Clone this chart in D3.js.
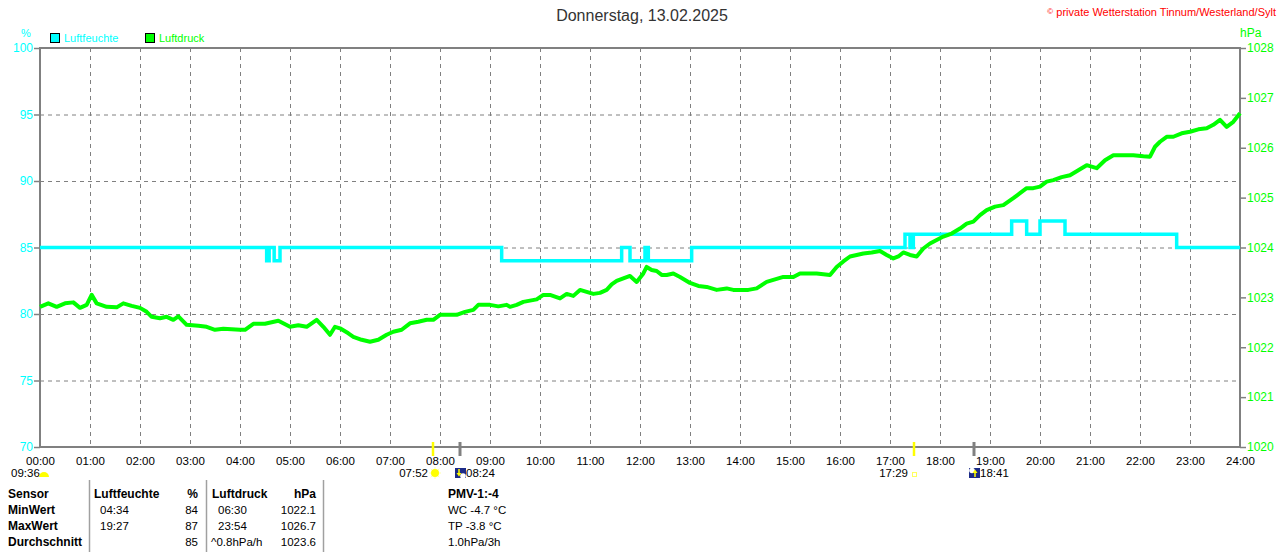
<!DOCTYPE html>
<html>
<head>
<meta charset="utf-8">
<title>Luftfeuchte / Luftdruck 13.02.2025</title>
<script src="https://cdn.jsdelivr.net/npm/d3@7"></script>
<style>
  body { margin: 0; background: #fff; }
  svg { display: block; font-family: "Liberation Sans", Arial, sans-serif; }
</style>
</head>
<body>
<div id="chart"></div>
<script>
// --- data ---
const hourTicks = ["00:00","01:00","02:00","03:00","04:00","05:00","06:00","07:00","08:00",
  "09:00","10:00","11:00","12:00","13:00","14:00","15:00","16:00","17:00","18:00","19:00",
  "20:00","21:00","22:00","23:00","24:00"];
const humTicks = [70, 75, 80, 85, 90, 95, 100];
const pressTicks = [1020, 1021, 1022, 1023, 1024, 1025, 1026, 1027, 1028];

// Luftfeuchte (%), step values
const humTimes  = ["00:00","04:32","04:35","04:41","04:48","09:14","11:38","11:48","12:06","12:10",
  "13:02","17:18","17:24","17:28","19:26","19:44","20:00","20:30","22:44","24:00"];
const humValues = [85, 84, 85, 84, 85, 84, 85, 84, 85, 84,
  85, 86, 85, 86, 87, 86, 87, 86, 85, 85];

// Luftdruck (hPa)
const pressTimes = ["00:00","00:10","00:20","00:30","00:40","00:48","00:56","01:02","01:08","01:20",
  "01:32","01:40","01:50","02:00","02:08","02:14","02:24","02:32","02:40","02:46",
  "02:56","03:10","03:20","03:30","03:40","03:50","04:00","04:06","04:16","04:30",
  "04:46","05:00","05:10","05:20","05:32","05:40","05:48","05:54","06:00","06:10",
  "06:16","06:26","06:36","06:46","06:56","07:04","07:14","07:24","07:34","07:44",
  "07:52","08:00","08:10","08:20","08:30","08:40","08:46","09:00","09:10","09:20",
  "09:24","09:32","09:40","09:56","10:04","10:12","10:24","10:32","10:40","10:48",
  "10:56","11:04","11:12","11:20","11:26","11:32","11:40","11:48","11:56","12:04",
  "12:08","12:14","12:20","12:26","12:32","12:40","12:48","12:56","13:00","13:10",
  "13:20","13:32","13:44","13:52","14:00","14:10","14:20","14:32","14:40","14:52",
  "15:04","15:12","15:22","15:32","15:48","15:56","16:04","16:12","16:20","16:28",
  "16:38","16:48","16:56","17:04","17:10","17:16","17:24","17:32","17:40","17:48",
  "17:56","18:04","18:14","18:24","18:32","18:40","18:48","18:56","19:06","19:16",
  "19:28","19:36","19:44","19:52","20:00","20:08","20:16","20:26","20:36","20:46",
  "20:56","21:08","21:18","21:28","21:40","21:52","22:04","22:12","22:18","22:24",
  "22:32","22:40","22:50","23:00","23:10","23:20","23:28","23:36","23:44","23:52","24:00"];
const pressValues = [1022.81,1022.88,1022.81,1022.88,1022.90,1022.79,1022.85,1023.05,1022.88,1022.81,
  1022.80,1022.88,1022.83,1022.79,1022.71,1022.61,1022.58,1022.61,1022.55,1022.62,
  1022.45,1022.43,1022.41,1022.35,1022.37,1022.36,1022.35,1022.35,1022.47,1022.47,
  1022.53,1022.41,1022.44,1022.41,1022.55,1022.41,1022.25,1022.41,1022.38,1022.28,
  1022.21,1022.15,1022.11,1022.15,1022.25,1022.31,1022.35,1022.48,1022.51,1022.55,
  1022.55,1022.65,1022.65,1022.65,1022.71,1022.75,1022.85,1022.85,1022.82,1022.85,
  1022.81,1022.85,1022.91,1022.96,1023.05,1023.05,1022.98,1023.07,1023.03,1023.15,
  1023.11,1023.07,1023.09,1023.15,1023.26,1023.33,1023.38,1023.43,1023.31,1023.48,
  1023.61,1023.55,1023.53,1023.45,1023.45,1023.48,1023.41,1023.33,1023.29,1023.23,
  1023.21,1023.15,1023.18,1023.15,1023.15,1023.15,1023.18,1023.31,1023.35,1023.41,
  1023.41,1023.48,1023.48,1023.48,1023.45,1023.61,1023.72,1023.82,1023.85,1023.88,
  1023.90,1023.93,1023.85,1023.78,1023.82,1023.90,1023.85,1023.82,1023.98,1024.08,
  1024.15,1024.22,1024.28,1024.38,1024.48,1024.52,1024.65,1024.75,1024.82,1024.85,
  1024.99,1025.09,1025.19,1025.19,1025.22,1025.32,1025.35,1025.41,1025.45,1025.55,
  1025.65,1025.59,1025.75,1025.85,1025.85,1025.85,1025.83,1025.82,1026.02,1026.12,
  1026.22,1026.22,1026.29,1026.32,1026.37,1026.39,1026.46,1026.56,1026.42,1026.52,1026.69];

// Sonne / Mond
const astroTimes = ["07:52", "08:24", "17:29", "18:41"];
const astroKinds = ["sunrise", "moonset", "sunset", "moonrise"];
const moonInfo = "09:36";

// Tabelle
const tableHeader = ["Sensor", "Luftfeuchte", "%", "Luftdruck", "hPa", "PMV-1:-4"];
const rowLabels   = ["MinWert", "MaxWert", "Durchschnitt"];
const humWhen     = ["04:34", "19:27", ""];
const humStat     = ["84", "87", "85"];
const pressWhen   = ["06:30", "23:54", "^0.8hPa/h"];
const pressStat   = ["1022.1", "1026.7", "1023.6"];
const extraInfo   = ["WC -4.7 °C", "TP -3.8 °C", "1.0hPa/3h"];

// --- layout ---
const width = 1280, height = 552;
const m = { top: 48, right: 40, bottom: 105, left: 40 };
const toMin = s => { const [h, mm] = s.split(":").map(Number); return h * 60 + mm; };

const x = d3.scaleLinear().domain([0, 1440]).range([m.left, width - m.right]);
const yH = d3.scaleLinear().domain([70, 100]).range([height - m.bottom, m.top]);
const yP = d3.scaleLinear().domain([1020, 1028]).range([height - m.bottom, m.top]);

const svg = d3.select("#chart").append("svg")
    .attr("width", width)
    .attr("height", height);

const grey = "#808080";

// grid
const grid = svg.append("g")
    .attr("stroke", grey)
    .attr("stroke-width", 1)
    .attr("stroke-dasharray", "4,4");
grid.selectAll(".vg")
  .data(hourTicks.slice(1, -1))
  .enter().append("line")
    .attr("x1", d => x(toMin(d)) + 0.5).attr("x2", d => x(toMin(d)) + 0.5)
    .attr("y1", yH(100)).attr("y2", yH(70));
grid.selectAll(".hg")
  .data(humTicks.slice(1, -1))
  .enter().append("line")
    .attr("x1", x(0)).attr("x2", x(1440))
    .attr("y1", d => yH(d) + 0.5).attr("y2", d => yH(d) + 0.5);

// left axis (Luftfeuchte)
const axL = svg.append("g")
    .attr("transform", `translate(${x(0)},0)`)
    .call(d3.axisLeft(yH).tickValues(humTicks).tickSize(6).tickPadding(1));
axL.select(".domain").remove();
axL.selectAll("line").attr("stroke", grey).attr("stroke-width", 1.5);
axL.selectAll("text").attr("fill", "#00ffff").style("font-size", "12px")
    .style("font-family", "Liberation Sans, Arial, sans-serif");

// right axis (Luftdruck)
const axR = svg.append("g")
    .attr("transform", `translate(${x(1440)},0)`)
    .call(d3.axisRight(yP).tickValues(pressTicks).tickSize(6).tickPadding(1).tickFormat(d3.format("d")));
axR.select(".domain").remove();
axR.selectAll("line").attr("stroke", grey).attr("stroke-width", 1.5);
axR.selectAll("text").attr("fill", "#00ff00").style("font-size", "12px")
    .style("font-family", "Liberation Sans, Arial, sans-serif");

// bottom axis (time)
const axB = svg.append("g")
    .attr("transform", `translate(0,${yH(70)})`)
    .call(d3.axisBottom(x).tickValues(hourTicks.map(toMin)).tickSize(0).tickPadding(10)
      .tickFormat((d, i) => hourTicks[i]));
axB.select(".domain").remove();
axB.selectAll("text").attr("fill", "#000").style("font-size", "11.5px")
    .style("font-family", "Liberation Sans, Arial, sans-serif");

// frame
svg.append("rect")
    .attr("x", x(0)).attr("y", yH(100))
    .attr("width", x(1440) - x(0)).attr("height", yH(70) - yH(100))
    .attr("fill", "none").attr("stroke", grey).attr("stroke-width", 2);

// lines
const humData = humTimes.map((t, i) => ({ t: toMin(t), v: humValues[i] }));
const pressData = pressTimes.map((t, i) => ({ t: toMin(t), v: pressValues[i] }));

svg.append("path")
    .datum(humData)
    .attr("fill", "none")
    .attr("stroke", "#00ffff")
    .attr("stroke-width", 3.5)
    .attr("d", d3.line().x(d => x(d.t)).y(d => yH(d.v)).curve(d3.curveStepAfter));

svg.append("path")
    .datum(pressData)
    .attr("fill", "none")
    .attr("stroke", "#00ff00")
    .attr("stroke-width", 4)
    .attr("stroke-linejoin", "round")
    .attr("d", d3.line().x(d => x(d.t)).y(d => yP(d.v)));

// titles, units, legend
svg.append("text")
    .attr("x", 642).attr("y", 21)
    .attr("text-anchor", "middle")
    .attr("fill", "#333").style("font-size", "16px")
    .text("Donnerstag, 13.02.2025");

const copy = svg.append("text")
    .attr("x", 1276).attr("y", 16)
    .attr("text-anchor", "end")
    .attr("fill", "#ff0000").style("font-size", "11px");
copy.append("tspan").attr("dy", -2).style("font-size", "8px").text("©");
copy.append("tspan").attr("dy", 2).text(" private Wetterstation Tinnum/Westerland/Sylt");

svg.append("text").attr("x", 26).attr("y", 37).attr("text-anchor", "middle")
    .attr("fill", "#00ffff").style("font-size", "11px").text("%");
svg.append("text").attr("x", 1240).attr("y", 37)
    .attr("fill", "#00ff00").style("font-size", "12px").text("hPa");

const legend = [["Luftfeuchte", "#00ffff", 50], ["Luftdruck", "#00ff00", 145]];
legend.forEach(([name, col, lx]) => {
  svg.append("rect").attr("x", lx + 0.5).attr("y", 33.5).attr("width", 9).attr("height", 9)
      .attr("fill", col).attr("stroke", "#000").attr("stroke-width", 1);
  svg.append("text").attr("x", lx + 14).attr("y", 42)
      .attr("fill", col).style("font-size", "11px").text(name);
});

// sun / moon markers
const axisY = yH(70);
const astro = svg.append("g");
astroTimes.forEach((t, i) => {
  const kind = astroKinds[i];
  const px = Math.round(x(toMin(t)));
  const isSun = kind === "sunrise" || kind === "sunset";
  astro.append("line")
      .attr("x1", px).attr("x2", px)
      .attr("y1", axisY - 5).attr("y2", axisY + 9)
      .attr("stroke", isSun ? "#ffff00" : grey)
      .attr("stroke-width", isSun ? 2.5 : 3);

  if (kind === "sunrise") {
    astro.append("text").attr("x", px - 5).attr("y", 477).attr("text-anchor", "end")
        .style("font-size", "11.5px").text(t);
    const cx = px + 2, cy = 473;
    d3.range(8).forEach(k => {
      const a = k * Math.PI / 4;
      astro.append("line")
          .attr("x1", cx + Math.cos(a) * 4).attr("y1", cy + Math.sin(a) * 4)
          .attr("x2", cx + Math.cos(a) * 6).attr("y2", cy + Math.sin(a) * 6)
          .attr("stroke", "#ffffa8").attr("stroke-width", 1);
    });
    astro.append("circle").attr("cx", cx).attr("cy", cy).attr("r", 4).attr("fill", "#ffff00");
  } else if (kind === "sunset") {
    astro.append("text").attr("x", px - 6).attr("y", 477).attr("text-anchor", "end")
        .style("font-size", "11.5px").text(t);
    astro.append("rect").attr("x", px - 1.5).attr("y", 472.5).attr("width", 4).attr("height", 4)
        .attr("fill", "none").attr("stroke", "#ffff60").attr("stroke-width", 1);
  } else {
    const up = kind === "moonrise";
    astro.append("rect").attr("x", px - 5).attr("y", 468).attr("width", 11).attr("height", 10)
        .attr("fill", "#1c2b88");
    astro.append("circle")
        .attr("cx", up ? px - 2 : px + 3).attr("cy", up ? 470.5 : 476)
        .attr("r", 2.8).attr("fill", "#fff");
    const ax = up ? px + 1 : px - 1;
    astro.append("line").attr("x1", ax).attr("x2", ax)
        .attr("y1", up ? 477 : 469).attr("y2", up ? 472 : 474)
        .attr("stroke", "#ffff00").attr("stroke-width", 1.5);
    astro.append("path")
        .attr("d", up ? `M${ax - 2.5},${473} L${ax},${469.5} L${ax + 2.5},${473} Z`
                      : `M${ax - 2.5},${473} L${ax},${476.5} L${ax + 2.5},${473} Z`)
        .attr("fill", "#ffff00");
    astro.append("text").attr("x", px + 6).attr("y", 477)
        .style("font-size", "11.5px").text(t);
  }
});

// moon info at the left
svg.append("text").attr("x", 11).attr("y", 477).style("font-size", "11.5px").text(moonInfo);
svg.append("path").attr("d", "M39,477 A5,5 0 0 1 49,477 Z").attr("fill", "#ffff00");

// table
const tbl = svg.append("g").style("font-size", "11.5px").attr("fill", "#000");
[89, 206, 323].forEach(sx => {
  tbl.append("line").attr("x1", sx + 0.5).attr("x2", sx + 0.5).attr("y1", 480).attr("y2", 552)
      .attr("stroke", "#a0a0a0").attr("stroke-width", 1.5);
});
const hdrX = [[8, "start"], [94, "start"], [198, "end"], [212, "start"], [316, "end"], [448, "start"]];
tableHeader.forEach((h, i) => {
  tbl.append("text").attr("x", hdrX[i][0]).attr("y", 498).attr("text-anchor", hdrX[i][1])
      .style("font-weight", "bold").style("font-size", "12px").text(h);
});
rowLabels.forEach((r, i) => {
  const ry = 514 + i * 16;
  tbl.append("text").attr("x", 8).attr("y", ry).style("font-weight", "bold").style("font-size", "12px").text(r);
  tbl.append("text").attr("x", 100).attr("y", ry).text(humWhen[i]);
  tbl.append("text").attr("x", 198).attr("y", ry).attr("text-anchor", "end").text(humStat[i]);
  tbl.append("text").attr("x", i === 2 ? 211 : 218).attr("y", ry).text(pressWhen[i]);
  tbl.append("text").attr("x", 316).attr("y", ry).attr("text-anchor", "end").text(pressStat[i]);
  tbl.append("text").attr("x", 448).attr("y", ry).text(extraInfo[i]);
});
</script>
</body>
</html>
